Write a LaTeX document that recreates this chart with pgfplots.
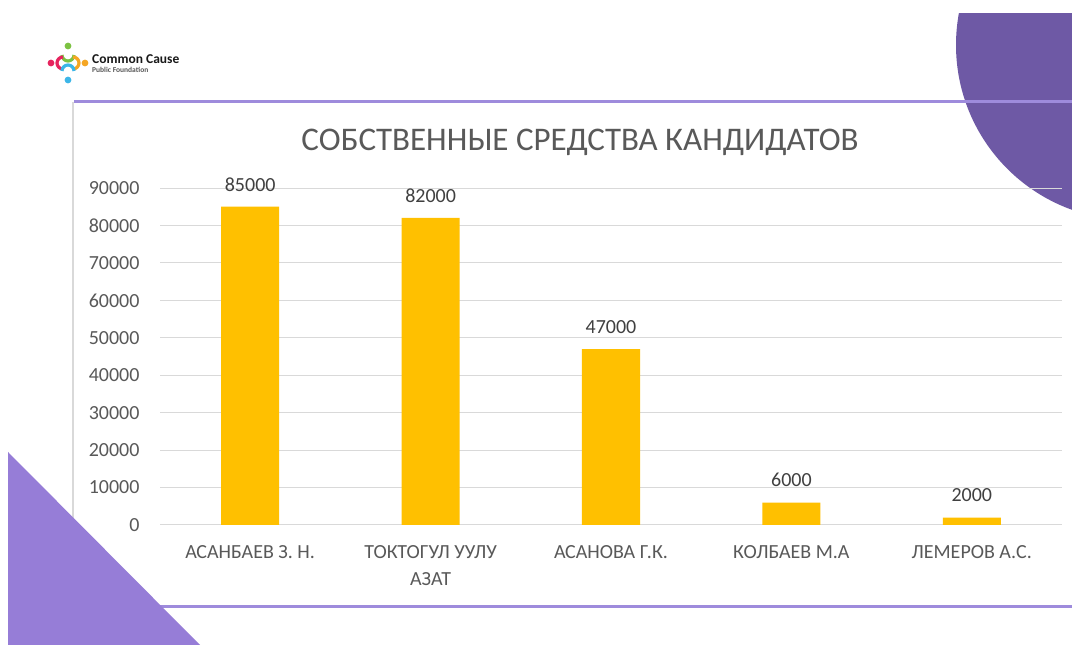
\documentclass[border=0pt]{standalone}
\usepackage{pgfplots}
\pgfplotsset{compat=1.18}
\usepackage{fontspec}
\setmainfont{Carlito}
\definecolor{barc}{HTML}{FFC000}
\definecolor{gridc}{HTML}{D9D9D9}
\definecolor{txt}{HTML}{595959}
\definecolor{lbl}{HTML}{404040}
\definecolor{circ}{HTML}{6E59A5}
\definecolor{tri}{HTML}{967DD7}
\definecolor{pline}{HTML}{9E8BDC}
\definecolor{lgreen}{HTML}{7CC242}
\definecolor{lred}{HTML}{E6245E}
\definecolor{lorange}{HTML}{F5A623}
\definecolor{lblue}{HTML}{3CB6E8}
\begin{document}
\begin{tikzpicture}[x=1pt,y=1pt]
\useasboundingbox (0,0) rectangle (1072,645);
\fill[white] (0,0) rectangle (1072,645);
% slide decorations
\begin{scope}
\clip (8,0) rectangle (1072,631);
\fill[circ] (1131,600) circle (175);
\end{scope}
\draw[gridc, line width=1.5pt] (73,543) -- (73,38);
\draw[pline, line width=3pt] (74,543) -- (1072,543);
\draw[pline, line width=3pt] (74,38) -- (1072,38);
\fill[tri] (8,193) -- (8,0) -- (200,0) -- cycle;
% logo
\fill[lgreen] (68,599) circle (3.4);
\fill[lred] (51,582) circle (3.4);
\fill[lorange] (85,582) circle (3.4);
\fill[lblue] (68,565) circle (3.4);
\draw[lgreen, line width=3.2pt] (62,590) arc[start angle=180, end angle=360, radius=6];
\draw[lred, line width=3.2pt] (63,576) arc[start angle=270, end angle=90, radius=6];
\draw[lorange, line width=3.2pt] (73,588) arc[start angle=90, end angle=-90, radius=6];
\draw[lblue, line width=3.2pt] (62,574) arc[start angle=180, end angle=0, radius=6];
\node[anchor=base west, inner sep=0, font=\fontsize{13.5}{13.5}\selectfont\bfseries, text=black!90] at (92,581) {Common Cause};
\node[anchor=base west, inner sep=0, font=\fontsize{7.5}{7.5}\selectfont\bfseries, text=black!65] at (92,572) {Public Foundation};
% title
\node[font=\fontsize{33}{33}\selectfont, text=txt] at (580,503) {СОБСТВЕННЫЕ СРЕДСТВА КАНДИДАТОВ};
\begin{axis}[
  at={(160pt,120pt)}, anchor=south west,
  scale only axis, width=902pt, height=337pt,
  ymin=0, ymax=90000, xmin=-0.5, xmax=4.5,
  ytick={0,10000,...,90000},
  xtick={0,1,2,3,4},
  xticklabels={АСАНБАЕВ З. Н., {ТОКТОГУЛ УУЛУ\\АЗАТ}, АСАНОВА Г.К., КОЛБАЕВ М.А, ЛЕМЕРОВ А.С.},
  /pgf/number format/assume math mode=true,
  /pgf/number format/fixed,
  /pgf/number format/1000 sep={},
  scaled y ticks=false,
  axis x line*=bottom, axis y line*=left,
  y axis line style={draw=none},
  x axis line style={draw=gridc, line width=1pt},
  major tick length=0pt,
  ymajorgrids, grid style={draw=gridc, line width=1pt},
  tick label style={font=\fontsize{20}{27}\selectfont, text=txt},
  xticklabel style={align=center, yshift=-17pt},
  yticklabel style={xshift=-17pt},
  ybar, bar width=58pt,
  nodes near coords,
  nodes near coords style={font=\fontsize{20}{20}\selectfont, text=lbl, yshift=12pt},
]
\addplot[fill=barc, draw=none] coordinates {(0,85000) (1,82000) (2,47000) (3,6000) (4,2000)};
\end{axis}
\end{tikzpicture}
\end{document}
